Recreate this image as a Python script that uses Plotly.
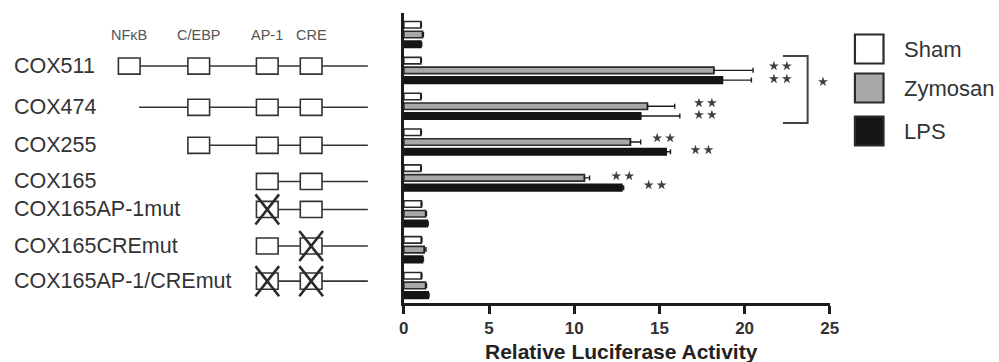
import plotly.graph_objects as go

# ---------------- data ----------------
groups = ["", "COX511", "COX474", "COX255", "COX165",
          "COX165AP-1mut", "COX165CREmut", "COX165AP-1/CREmut"]
series_names = ["Sham", "Zymosan", "LPS"]
sham = [1.0, 1.0, 1.0, 1.0, 1.0, 1.03, 1.03, 1.03]
zymosan = [1.1, 18.2, 14.3, 13.3, 10.6, 1.28, 1.2, 1.28]
lps = [1.0, 18.7, 13.9, 15.4, 12.8, 1.38, 1.1, 1.43]
sham_err = [0.03, 0.03, 0.03, 0.03, 0.03, 0.03, 0.03, 0.03]
zymosan_err = [0.05, 2.3, 1.6, 0.6, 0.3, 0.05, 0.1, 0.05]
lps_err = [0.05, 1.7, 2.3, 0.25, 0.1, 0.05, 0.05, 0.05]
x_ticks = [0, 5, 10, 15, 20, 25]

# promoter diagram (arbitrary diagram units)
site_names = ["NFκB", "C/EBP", "AP-1", "CRE"]
site_pos = [126, 196.5, 266, 310.5]
construct_row = [0.88, 2.03, 3.09, 4.1, 4.88, 5.9, 6.88]
construct_start = [115, 136, 186, 255, 255, 255, 255]
construct_sites = [[0, 1, 2, 3], [1, 2, 3], [1, 2, 3], [2, 3], [2, 3], [2, 3], [2, 3]]
construct_mut = [[], [], [], [], [2], [3], [2, 3]]
line_end = 368

# significance marks: centre x value, y position, number of stars
sig_x = [22.1, 22.1, 17.7, 17.7, 15.25, 17.5, 12.85, 14.75, 24.6]
sig_y = [0.88, 1.24, 1.91, 2.24, 2.89, 3.22, 3.95, 4.2, 1.32]
sig_n = [2, 2, 2, 2, 2, 2, 2, 2, 1]
bracket_x = [22.25, 23.7]
bracket_y = [0.6, 2.47]

# ---------------- layout constants ----------------
W, H = 999, 362
X0, X1 = 404.5 / W, 836.5 / W
Y0, Y1 = 1 - 303 / H, 1 - 13 / H
FONT = "Arial, Liberation Sans, sans-serif"
INK = "#1c1c1c"
XMAX = 25
STAR_GAP = 0.38  # half distance between the two stars of a pair, in axis units

fig = go.Figure()
pos = list(range(len(groups)))
styles = [("white", "#2a2a2a"), ("#a8a8a8", "#2a2a2a"), ("#151515", "#151515")]
for name, vals, errs, (fc, lc) in zip(series_names, [sham, zymosan, lps],
                                      [sham_err, zymosan_err, lps_err], styles):
    fig.add_trace(go.Bar(
        y=pos, x=vals, orientation="h", name=name, showlegend=False,
        marker=dict(color=fc, line=dict(color=lc, width=1.6)),
        error_x=dict(type="data", array=errs, arrayminus=[0] * len(errs),
                     symmetric=False, color=INK, thickness=1.4, width=2.5),
    ))

# significance stars as star markers
star_x, star_y = [], []
for x, y, n in zip(sig_x, sig_y, sig_n):
    if n == 1:
        star_x.append(x)
        star_y.append(y)
    else:
        star_x += [x - STAR_GAP, x + STAR_GAP]
        star_y += [y, y]
fig.add_trace(go.Scatter(x=star_x, y=star_y, mode="markers", showlegend=False,
                         cliponaxis=False, hoverinfo="skip",
                         marker=dict(symbol="star", size=7.5, color="#404040",
                                     line=dict(width=0))))

# invisible trace to register x2
fig.add_trace(go.Scatter(x=[0], y=[0], xaxis="x2", yaxis="y", mode="markers",
                         marker=dict(opacity=0), showlegend=False, hoverinfo="skip"))

shapes = []
annotations = []
BOX_H = 0.225
CROSS_W, CROSS_H = 12, 0.42
for i, (yrow, start, sites, muts) in enumerate(zip(construct_row, construct_start,
                                                   construct_sites, construct_mut)):
    shapes.append(dict(type="line", xref="x2", yref="y", x0=start, x1=line_end,
                       y0=yrow, y1=yrow, line=dict(color="#333", width=1.6), layer="above"))
    for s in sites:
        shapes.append(dict(type="rect", xref="x2", yref="y",
                           x0=site_pos[s] - 11, x1=site_pos[s] + 11,
                           y0=yrow - BOX_H, y1=yrow + BOX_H,
                           fillcolor="white", line=dict(color="#333", width=1.6), layer="above"))
    for s in muts:
        for d in (1, -1):
            shapes.append(dict(type="line", xref="x2", yref="y",
                               x0=site_pos[s] - CROSS_W, x1=site_pos[s] + CROSS_W,
                               y0=yrow - d * CROSS_H, y1=yrow + d * CROSS_H,
                               line=dict(color="#2a2a2a", width=2.6), layer="above"))
    annotations.append(dict(xref="x2", yref="y", x=7, y=yrow, text=groups[i + 1],
                            showarrow=False, xanchor="left", yanchor="middle",
                            font=dict(family=FONT, size=21.5, color="#333")))

for n, p in zip(site_names, site_pos):
    annotations.append(dict(xref="x2", yref="y", x=p, y=0.02, text=n, showarrow=False,
                            xanchor="center", yanchor="middle",
                            font=dict(family=FONT, size=14.5, color="#555")))

# bracket (x in fractions of the bar axis domain, so it is not clipped)
bx = [v / XMAX for v in bracket_x]
shapes.append(dict(type="path", xref="x domain", yref="y",
                   path=f"M {bx[0]} {bracket_y[0]} L {bx[1]} {bracket_y[0]} "
                        f"L {bx[1]} {bracket_y[1]} L {bx[0]} {bracket_y[1]}",
                   line=dict(color="#444", width=2)))

# legend drawn manually
leg_cy = [49, 88, 131]
leg_fill = ["white", "#a8a8a8", "#151515"]
for name, cy, fc in zip(series_names, leg_cy, leg_fill):
    shapes.append(dict(type="rect", xref="paper", yref="paper",
                       x0=862 / W, x1=891 / W, y0=1 - (cy + 14.5) / H, y1=1 - (cy - 14.5) / H,
                       fillcolor=fc, line=dict(color="#2a2a2a", width=2.2)))
    annotations.append(dict(xref="paper", yref="paper", x=910 / W, y=1 - cy / H, text=name,
                            showarrow=False, xanchor="left", yanchor="middle",
                            font=dict(family=FONT, size=22, color="#333")))

annotations.append(dict(xref="x domain", yref="paper", x=0.512, y=1 - 351 / H,
                        text="<b>Relative Luciferase Activity</b>", showarrow=False,
                        xanchor="center", yanchor="middle",
                        font=dict(family=FONT, size=21, color="#222")))

fig.update_layout(
    width=W, height=H, margin=dict(l=0, r=0, t=0, b=0),
    paper_bgcolor="white", plot_bgcolor="rgba(0,0,0,0)",
    barmode="group", bargap=0.185, bargroupgap=0.33,
    xaxis=dict(domain=[X0, X1], range=[0, XMAX], tickvals=x_ticks,
               showline=True, linewidth=3, linecolor=INK, ticks="outside",
               ticklen=8, tickwidth=3, tickcolor=INK, showgrid=False, zeroline=False,
               tickfont=dict(family=FONT, size=17, color="#333", weight="bold"),
               anchor="y", fixedrange=True),
    xaxis2=dict(domain=[0, 399.6 / W], range=[0, 399.6], visible=False, anchor="y",
                showgrid=False, zeroline=False),
    yaxis=dict(domain=[Y0, Y1], range=[7.49, -0.6], showline=True, linewidth=3,
               linecolor=INK, showticklabels=False, ticks="", showgrid=False,
               zeroline=False),
    shapes=shapes, annotations=annotations,
)

fig.write_html("out.html")
